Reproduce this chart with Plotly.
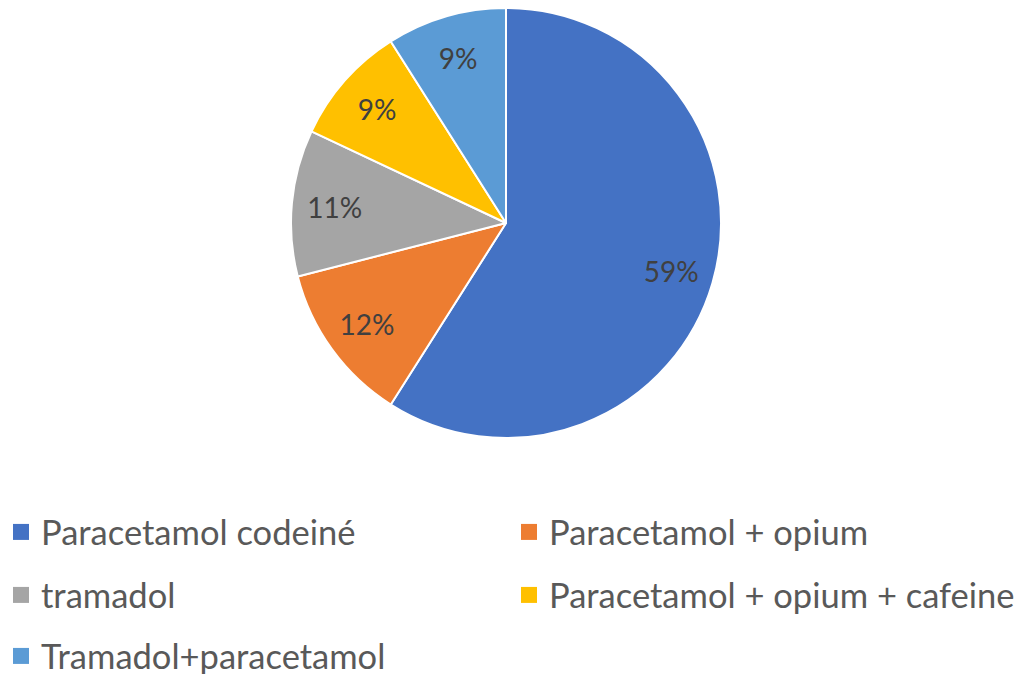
import plotly.graph_objects as go

# slice data, clockwise from 12 o'clock
labels = ["Paracetamol codeiné", "Paracetamol + opium", "tramadol",
          "Paracetamol + opium + cafeine", "Tramadol+paracetamol"]
values = [59, 12, 11, 9, 9]
colors = ["#4472C4", "#ED7D31", "#A5A5A5", "#FFC000", "#5B9BD5"]

W, H = 1024, 674
OFF = 8    # the page body adds an 8px margin
B = 170    # bottom margin: the legend rows live below the plot area
FONT = "Lato, Open Sans, sans-serif"


def main():
    hp = H - B  # plot-area height
    cx, cy, r = 506 - OFF, 223 - OFF, 215
    dom = dict(x=[(cx - r) / W, (cx + r) / W],
               y=[(hp - cy - r) / hp, min(1, (hp - cy + r) / hp)])

    fig = go.Figure()

    # the pie itself
    fig.add_trace(go.Pie(
        labels=labels, values=values, sort=False,
        direction="clockwise", rotation=0,
        marker=dict(colors=colors, line=dict(color="white", width=2)),
        textinfo="none", hoverinfo="label+percent",
        showlegend=False, domain=dom,
    ))

    # transparent ring on top, only used to place the % labels out at ~0.8 r
    fig.add_trace(go.Pie(
        labels=labels, values=values, sort=False,
        direction="clockwise", rotation=0, hole=0.6,
        marker=dict(colors=["rgba(0,0,0,0)"] * len(values), line=dict(width=0)),
        texttemplate="%{percent:.0%}",
        textposition="inside",
        insidetextorientation="horizontal",
        textfont=dict(family=FONT, size=28, color="#404040"),
        hoverinfo="skip",
        showlegend=False, domain=dom,
    ))

    # legend: two entries per row, one legend per row
    rows = ["legend", "legend", "legend2", "legend2", "legend3"]
    for name, col, lg in zip(labels, colors, rows):
        fig.add_trace(go.Scatter(
            x=[None], y=[None], mode="markers", name=name,
            marker=dict(symbol="square", size=16, color=col),
            legend=lg, hoverinfo="skip",
        ))

    leg = dict(
        orientation="h", x=-7 / W, xanchor="left", yanchor="middle",
        entrywidth=463, entrywidthmode="pixels", itemwidth=30,
        font=dict(family=FONT, size=34.5, color="#595959"),
        bgcolor="rgba(0,0,0,0)",
    )

    fig.update_layout(
        width=W, height=H,
        margin=dict(l=0, r=0, t=0, b=B, autoexpand=False),
        paper_bgcolor="white", plot_bgcolor="white",
        xaxis=dict(visible=False), yaxis=dict(visible=False),
        legend=dict(leg, y=(hp - 532 + OFF) / hp),
        legend2=dict(leg, y=(hp - 595 + OFF) / hp),
        legend3=dict(leg, y=(hp - 656 + OFF) / hp),
    )

    fig.write_html("out.html")


if __name__ == "__main__":
    main()
